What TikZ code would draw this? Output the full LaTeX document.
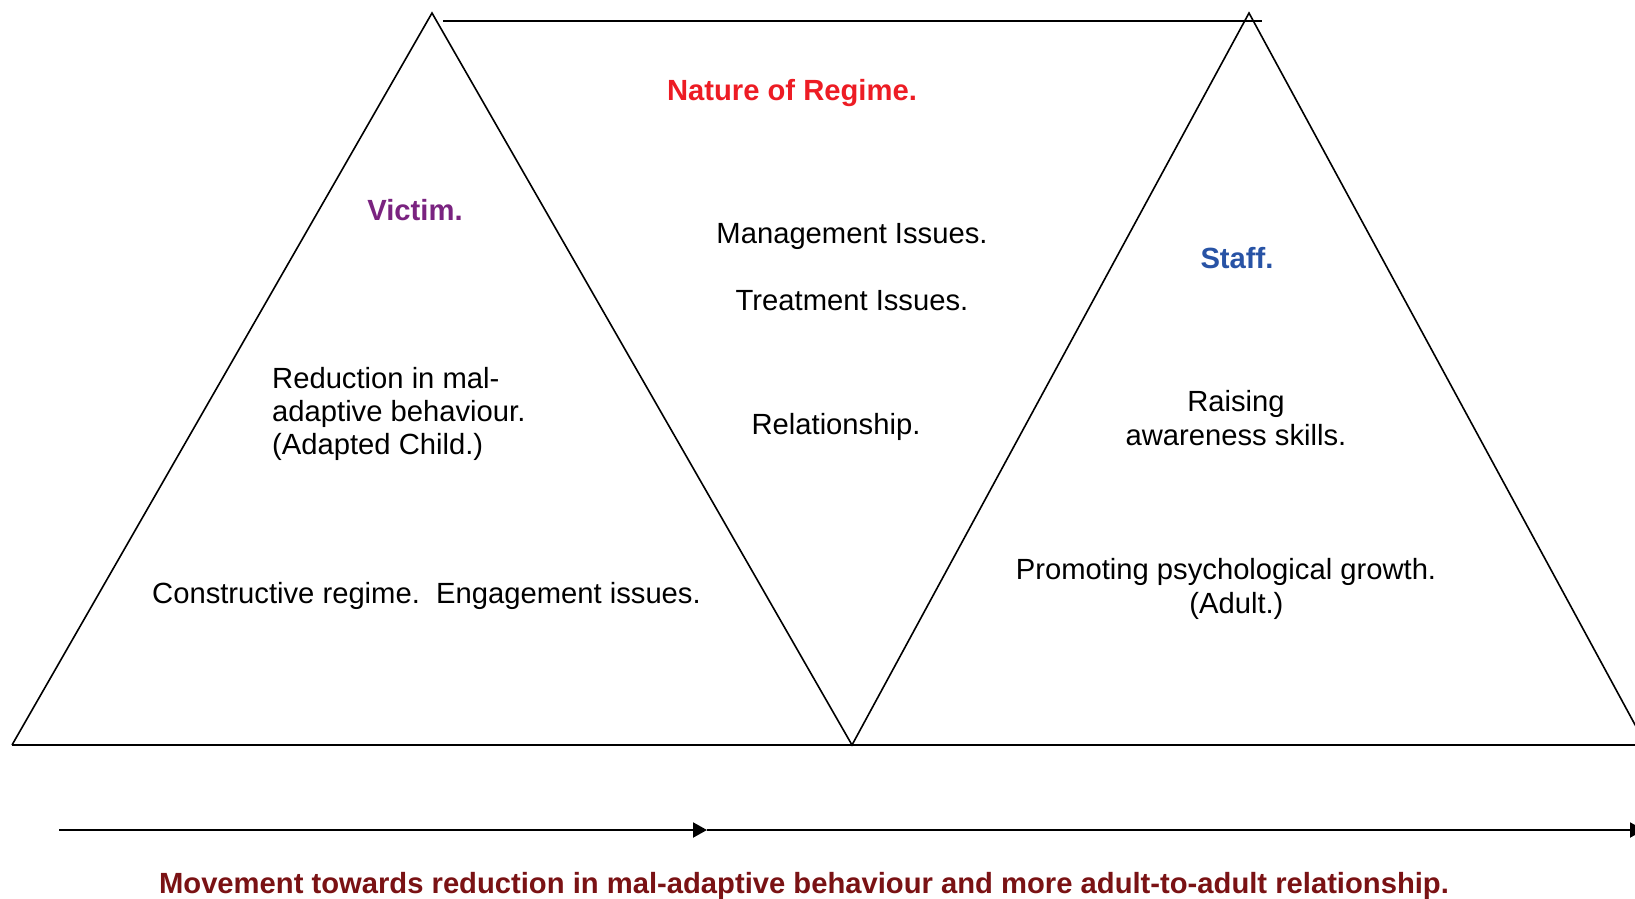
\documentclass[tikz,border=0pt]{standalone}
\usepackage{fontspec}
\setmainfont{Liberation Sans}
\usetikzlibrary{arrows.meta}
\definecolor{natred}{HTML}{ED1C24}
\definecolor{vicpurple}{HTML}{7A2380}
\definecolor{staffblue}{HTML}{2853A5}
\definecolor{movred}{HTML}{7A1214}
\begin{document}
\begin{tikzpicture}[x=1pt,y=-1pt,
  txt/.style={inner sep=0pt,font=\fontsize{29.2}{33.4}\selectfont},
  heading/.style={txt,font=\fontsize{29.2}{33.4}\selectfont\bfseries},
  shape line/.style={line width=1.6pt,line join=miter},
  movearrow/.style={line width=2pt,-{Triangle[length=14pt,width=15pt]}}]
\useasboundingbox (0,0) rectangle (1635,899);
\clip (0,0) rectangle (1635,899);
% corners
\coordinate (lapex) at (432,13);
\coordinate (lbase) at (12,745);
\coordinate (mbase) at (852,745);
\coordinate (rapex) at (1249,13);
\coordinate (rbase) at (1646,745);
\coordinate (topL) at (443,21);
\coordinate (topR) at (1262,21);
\coordinate (baseR) at (1646,745);
\coordinate (a0) at (59,830);
\coordinate (a1) at (707,830);
\coordinate (a2) at (1644,830);
% shapes
\draw[shape line] (lbase) -- (lapex) -- (mbase) -- (rapex) -- (rbase);
\draw[shape line] (lbase) -- (baseR);
\draw[line width=2pt] (topL) -- (topR);
\draw[movearrow] (a0) -- (a1);
\draw[movearrow] (a1) -- (a2);
% texts
\node[heading,text=natred] (nature) at (792,93) {Nature of Regime.};
\node[heading,text=vicpurple] (victim) at (415,210) {Victim.};
\node[heading,text=staffblue] (staff) at (1237,258) {Staff.};
\node[txt] (mgmt) at (852,236) {Management Issues.};
\node[txt] (treat) at (852,301) {Treatment Issues.};
\node[txt,align=left,anchor=west] (reduction) at (272,414) {Reduction in mal-\\adaptive behaviour.\\(Adapted Child.)};
\node[txt] (relation) at (836,427) {Relationship.};
\node[txt,align=center] (raising) at (1236,418) {Raising\\awareness skills.};
\node[txt,anchor=west] (constructive) at (152,596) {Constructive regime.\ \ Engagement issues.};
\node[txt,align=center] (promoting) at (1226,589) {Promoting psychological growth.\\\hspace*{20.8pt}(Adult.)};
\node[heading,text=movred] (movement) at (804,886) {Movement towards reduction in mal-adaptive behaviour and more adult-to-adult relationship.};
\end{tikzpicture}
\end{document}
